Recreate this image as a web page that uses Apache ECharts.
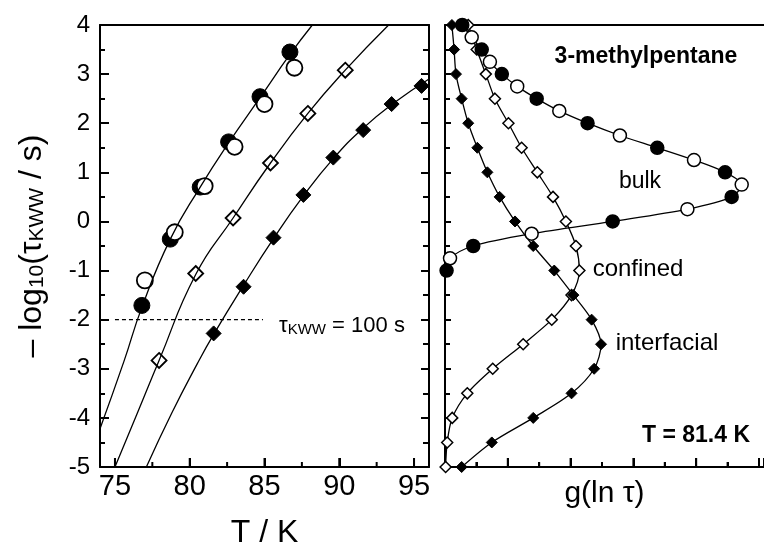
<!DOCTYPE html>
<html>
<head>
<meta charset="utf-8">
<script src="https://cdn.jsdelivr.net/npm/echarts@6/dist/echarts.min.js"></script>
<style>
  html, body { margin: 0; padding: 0; background: #fff; }
  #chart { width: 764px; height: 547px; }
</style>
</head>
<body>
<div id="chart"></div>
<script>
// left panel: -log10(tau_KWW / s) against T / K
var bulkFilledT = [76.8, 78.7, 80.7, 82.6, 84.7, 86.7]
var bulkFilledY = [-1.71, -0.36, 0.70, 1.62, 2.54, 3.45]
var bulkOpenT = [77.0, 79.0, 81.0, 83.0, 85.0, 87.0]
var bulkOpenY = [-1.20, -0.22, 0.72, 1.52, 2.39, 3.13]
var confinedT = [77.95, 80.4, 82.9, 85.4, 87.9, 90.4]
var confinedY = [-2.83, -1.06, 0.07, 1.19, 2.20, 3.08]
var interT = [81.6, 83.6, 85.6, 87.6, 89.6, 91.6, 93.5, 95.5]
var interY = [-2.28, -1.33, -0.33, 0.54, 1.30, 1.86, 2.39, 2.76]

// fitted curves
var bulkFitT = [74.0, 75.6, 76.8, 78.7, 80.7, 82.6, 84.7, 86.7, 88.2]
var bulkFitY = [-4.22, -2.85, -1.75, -0.36, 0.70, 1.60, 2.52, 3.40, 4.0]
var confinedFitT = [75.0, 76.5, 77.95, 80.4, 82.9, 85.4, 87.9, 90.4, 93.3]
var confinedFitY = [-5.0, -3.9, -2.83, -1.08, 0.07, 1.19, 2.20, 3.08, 4.0]
var interFitT = [77.1, 78.8, 80.5, 81.6, 83.6, 85.6, 87.6, 89.6, 91.6, 93.6, 96.0]
var interFitY = [-5.0, -3.9, -2.9, -2.3, -1.3, -0.35, 0.52, 1.28, 1.9, 2.4, 2.9]

var refLineT = [75.0, 84.9]
var refLineY = [-2, -2]

// right panel: g(ln tau) at T = 81.4 K
var bulkLogTau = [4.0, 3.75, 3.5, 3.25, 3.0, 2.75, 2.5, 2.25, 2.0, 1.75, 1.5, 1.25, 1.0, 0.75, 0.5, 0.25, 0, -0.25, -0.5, -0.75, -1.0]
var bulkG = [0.55, 0.85, 1.17, 1.43, 1.81, 2.30, 2.92, 3.64, 4.54, 5.57, 6.76, 7.93, 8.92, 9.45, 9.13, 7.72, 5.34, 2.76, 0.90, 0.16, 0.05]
var diamondLogTau = [4.0, 3.5, 3.0, 2.5, 2.0, 1.5, 1.0, 0.5, 0, -0.5, -1.0, -1.5, -2.0, -2.5, -3.0, -3.5, -4.0, -4.5, -5.0]
var confinedG = [0.74, 1.01, 1.30, 1.59, 2.02, 2.44, 2.94, 3.44, 3.85, 4.17, 4.28, 4.03, 3.40, 2.49, 1.52, 0.71, 0.23, 0.07, 0.02]
var interG = [0.22, 0.29, 0.35, 0.53, 0.74, 1.03, 1.35, 1.74, 2.23, 2.81, 3.48, 4.09, 4.67, 4.97, 4.75, 4.03, 2.81, 1.49, 0.53]

// tick values
var xLabelsLeft = [75, 80, 85, 90, 95]
var xMinorLeft = [77.5, 82.5, 87.5, 92.5]
var xMajorRight = [2, 4, 6, 8, 10]
var xMinorRight = [1, 3, 5, 7, 9]
var yMin = -5
var yMax = 4

var font = 'Liberation Sans, Arial, Helvetica, sans-serif'

function pairs (xs, ys) {
  return xs.map(function (x, i) { return [x, ys[i]] })
}

// bottom-axis tick marks as short bars standing on the axis minimum
function tickSeries (xIdx, yIdx, values, len) {
  return {
    type: 'scatter', xAxisIndex: xIdx, yAxisIndex: yIdx, silent: true, clip: false, z: 5,
    data: values.map(function (v) { return [v, yMin] }),
    symbol: 'rect', symbolSize: [2, len], symbolOffset: [0, -len / 2],
    itemStyle: { color: '#000', opacity: 1 }
  }
}

function xLine (refY, visible) {
  return { show: visible, onZero: true, onZeroAxisIndex: refY, lineStyle: { color: '#000', width: 2 } }
}
var yLine = { show: true, onZero: false, lineStyle: { color: '#000', width: 2 } }
var tickStyle = { color: '#000', width: 2 }

var myChart = echarts.init(document.getElementById('chart'))
var option = {
  backgroundColor: '#fff',
  animation: false,
  grid: [
    { left: 100, top: 25, width: 329, bottom: 80, containLabel: false, outerBoundsMode: 'none' },
    { left: 445, top: 25, right: 0, bottom: 80, containLabel: false, outerBoundsMode: 'none' }
  ],
  xAxis: [
    {
      gridIndex: 0, type: 'value', min: 74, max: 96, position: 'bottom',
      axisLine: xLine(3, true),
      axisTick: { show: true, inside: true, length: 9, customValues: xLabelsLeft, lineStyle: tickStyle },
      axisLabel: { customValues: xLabelsLeft, fontSize: 29, color: '#000', fontFamily: font, margin: 5 },
      splitLine: { show: false },
      name: 'T / K', nameLocation: 'middle', nameGap: 50, nameMoveOverlap: false,
      nameTextStyle: { fontSize: 32, color: '#000', fontFamily: font }
    },
    {
      gridIndex: 0, type: 'value', min: 74, max: 96, position: 'top',
      axisLine: xLine(3, true), axisTick: { show: false }, axisLabel: { show: false }, splitLine: { show: false }
    },
    {
      gridIndex: 1, type: 'value', min: 0, max: 10.16, interval: 2, position: 'bottom',
      axisLine: xLine(4, true),
      axisTick: { show: true, inside: true, length: 9, lineStyle: tickStyle },
      minorTick: { show: true, splitNumber: 2, length: 5, lineStyle: tickStyle },
      axisLabel: { show: false },
      splitLine: { show: false },
      minorSplitLine: { show: false },
      name: 'g(ln τ)', nameLocation: 'middle', nameGap: 12, nameMoveOverlap: false,
      nameTextStyle: { fontSize: 30, color: '#000', fontFamily: font, verticalAlign: 'top' }
    },
    {
      gridIndex: 1, type: 'value', min: 0, max: 10.16, position: 'top',
      axisLine: xLine(4, true), axisTick: { show: false }, axisLabel: { show: false }, splitLine: { show: false }
    }
  ],
  yAxis: [
    {
      gridIndex: 0, type: 'value', min: yMin, max: yMax, interval: 1, position: 'left',
      axisLine: yLine,
      axisTick: { show: true, inside: true, length: 9, lineStyle: tickStyle },
      minorTick: { show: true, splitNumber: 2, length: 5, lineStyle: tickStyle },
      axisLabel: { fontSize: 24, color: '#000', fontFamily: font, margin: 10 },
      splitLine: { show: false },
      minorSplitLine: { show: false },
      name: '{a|– log}{b|10}{a|(τ}{b|KWW}{a| / s)}',
      nameLocation: 'middle', nameGap: 52, nameMoveOverlap: false,
      nameTextStyle: {
        color: '#000', fontFamily: font,
        rich: {
          a: { fontSize: 32, lineHeight: 38, fontFamily: font, color: '#000', verticalAlign: 'bottom' },
          b: { fontSize: 21, lineHeight: 14, fontFamily: font, color: '#000', verticalAlign: 'bottom' }
        }
      }
    },
    {
      gridIndex: 0, type: 'value', min: yMin, max: yMax, interval: 1, position: 'right',
      axisLine: yLine,
      axisTick: { show: true, inside: true, length: 8, lineStyle: tickStyle },
      minorTick: { show: true, splitNumber: 2, length: 6, lineStyle: tickStyle },
      axisLabel: { show: false },
      splitLine: { show: false }
    },
    {
      gridIndex: 1, type: 'value', min: yMin, max: yMax, interval: 1, position: 'left',
      axisLine: yLine,
      axisTick: { show: true, inside: true, length: 6, lineStyle: tickStyle },
      minorTick: { show: true, splitNumber: 2, length: 5, lineStyle: tickStyle },
      axisLabel: { show: false },
      splitLine: { show: false }
    },
    // hidden helper axes (no zero in range) keep the x axis lines on the frame
    { gridIndex: 0, type: 'value', min: 1, max: 2, show: false },
    { gridIndex: 1, type: 'value', min: 1, max: 2, show: false }
  ],
  series: [
    // left panel fits
    { type: 'line', xAxisIndex: 0, yAxisIndex: 0, data: pairs(bulkFitT, bulkFitY), smooth: 0.5, showSymbol: false, lineStyle: { color: '#000', width: 1.3 } },
    { type: 'line', xAxisIndex: 0, yAxisIndex: 0, data: pairs(confinedFitT, confinedFitY), smooth: 0.5, showSymbol: false, lineStyle: { color: '#000', width: 1.3 } },
    { type: 'line', xAxisIndex: 0, yAxisIndex: 0, data: pairs(interFitT, interFitY), smooth: 0.5, showSymbol: false, lineStyle: { color: '#000', width: 1.3 } },
    { type: 'line', xAxisIndex: 0, yAxisIndex: 0, data: pairs(refLineT, refLineY), showSymbol: false, lineStyle: { color: '#000', width: 1.4, type: [4, 3] } },
    // left panel data
    { type: 'scatter', xAxisIndex: 0, yAxisIndex: 0, data: pairs(bulkFilledT, bulkFilledY), symbol: 'circle', symbolSize: 16, itemStyle: { color: '#000', borderColor: '#000', borderWidth: 1, opacity: 1 } },
    { type: 'scatter', xAxisIndex: 0, yAxisIndex: 0, data: pairs(bulkOpenT, bulkOpenY), symbol: 'circle', symbolSize: 16, itemStyle: { color: '#fff', borderColor: '#000', borderWidth: 1.8, opacity: 1 } },
    { type: 'scatter', xAxisIndex: 0, yAxisIndex: 0, data: pairs(confinedT, confinedY), symbol: 'diamond', symbolSize: 15, itemStyle: { color: '#fff', borderColor: '#000', borderWidth: 1.8, opacity: 1 } },
    { type: 'scatter', xAxisIndex: 0, yAxisIndex: 0, data: pairs(interT, interY), symbol: 'diamond', symbolSize: 15, itemStyle: { color: '#000', borderColor: '#000', borderWidth: 1, opacity: 1 } },
    // right panel distributions
    {
      type: 'line', xAxisIndex: 2, yAxisIndex: 2, data: pairs(confinedG, diamondLogTau), smooth: 0.3,
      symbol: 'diamond', symbolSize: 11, showAllSymbol: true,
      lineStyle: { color: '#000', width: 1.3 }, itemStyle: { color: '#fff', borderColor: '#000', borderWidth: 1.5 }
    },
    {
      type: 'line', xAxisIndex: 2, yAxisIndex: 2, data: pairs(interG, diamondLogTau), smooth: 0.3,
      symbol: 'diamond', symbolSize: 11, showAllSymbol: true,
      lineStyle: { color: '#000', width: 1.3 }, itemStyle: { color: '#000', borderColor: '#000', borderWidth: 1 }
    },
    {
      type: 'line', xAxisIndex: 2, yAxisIndex: 2, smooth: 0.3,
      data: bulkG.map(function (g, i) {
        return { value: [g, bulkLogTau[i]], itemStyle: { color: i % 2 === 0 ? '#000' : '#fff', borderColor: '#000', borderWidth: 1.5 } }
      }),
      symbol: 'circle', symbolSize: 13, showAllSymbol: true,
      lineStyle: { color: '#000', width: 1.3 }
    },
    // bottom ticks
    tickSeries(0, 0, xLabelsLeft, 9),
    tickSeries(0, 0, xMinorLeft, 5),
    tickSeries(2, 2, xMajorRight, 9),
    tickSeries(2, 2, xMinorRight, 5)
  ],
  graphic: [
    { type: 'text', x: 646, y: 57, style: { text: '3-methylpentane', font: 'bold 23px ' + font, fill: '#000', align: 'center', verticalAlign: 'middle' } },
    { type: 'text', x: 640, y: 182, style: { text: 'bulk', font: '23px ' + font, fill: '#000', align: 'center', verticalAlign: 'middle' } },
    { type: 'text', x: 638, y: 269, style: { text: 'confined', font: '24px ' + font, fill: '#000', align: 'center', verticalAlign: 'middle' } },
    { type: 'text', x: 667, y: 343, style: { text: 'interfacial', font: '24px ' + font, fill: '#000', align: 'center', verticalAlign: 'middle' } },
    { type: 'text', x: 696, y: 436, style: { text: 'T = 81.4 K', font: 'bold 23px ' + font, fill: '#000', align: 'center', verticalAlign: 'middle' } },
    {
      type: 'text', x: 279, y: 324,
      style: {
        text: '{a|τ}{b|KWW}{a| = 100 s}', align: 'left', verticalAlign: 'middle',
        rich: {
          a: { fontSize: 22, lineHeight: 26, fontFamily: font, fill: '#000', verticalAlign: 'bottom' },
          b: { fontSize: 15, lineHeight: 10, fontFamily: font, fill: '#000', verticalAlign: 'bottom' }
        }
      }
    }
  ]
}
myChart.setOption(option)
</script>
</body>
</html>
